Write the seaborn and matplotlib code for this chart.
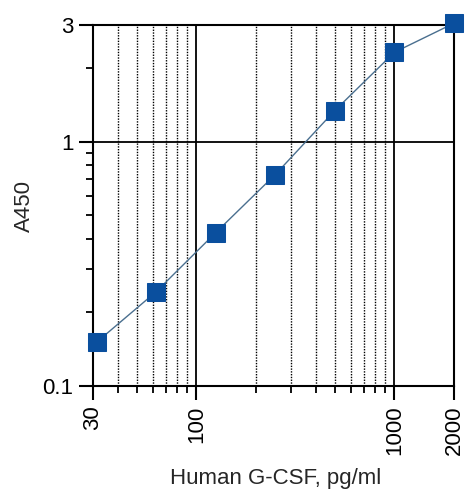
import matplotlib
matplotlib.use('Agg')
import matplotlib.pyplot as plt
import seaborn as sns
from matplotlib.ticker import FixedLocator, NullFormatter

# dados da curva padrao
conc = [31.25, 62.5, 125, 250, 500, 1000, 2000]
a450 = [0.151, 0.243, 0.424, 0.733, 1.34, 2.32, 3.05]

x_major = [30, 100, 1000, 2000]
x_major_labels = ['30', '100', '1000', '2000']
x_minor = [40, 50, 60, 70, 80, 90, 200, 300, 400, 500, 600, 700, 800, 900]
y_major = [0.1, 1, 3]
y_major_labels = ['0.1', '1', '3']
y_minor = [0.2, 0.3, 0.4, 0.5, 0.6, 0.7, 0.8, 0.9, 2]

sns.set_style('ticks')
plt.rcParams['font.family'] = ['Liberation Sans', 'DejaVu Sans']

fig = plt.figure(figsize=(4.66, 4.93), dpi=100)
ax = fig.add_axes([93/466, 1-386/493, (454-93)/466, (386-25)/493])

sns.lineplot(x=conc, y=a450, ax=ax, color='#4a6f8f', linewidth=1,
             marker='s', markersize=13, markerfacecolor='#0a4f9e',
             markeredgecolor='#0a4f9e', zorder=5, clip_on=False)

ax.set_xscale('log')
ax.set_yscale('log')
ax.set_xlim(30, 2000)
ax.set_ylim(0.1, 3)

ax.xaxis.set_major_locator(FixedLocator(x_major))
ax.xaxis.set_minor_locator(FixedLocator(x_minor))
ax.yaxis.set_major_locator(FixedLocator(y_major))
ax.yaxis.set_minor_locator(FixedLocator(y_minor))
ax.set_xticklabels(x_major_labels, rotation=90)
ax.set_yticklabels(y_major_labels)
ax.xaxis.set_minor_formatter(NullFormatter())
ax.yaxis.set_minor_formatter(NullFormatter())

# grades: solidas nas decadas, pontilhadas nos minor de x
for v in [100, 1000]:
    ax.axvline(v, color='black', linewidth=1.3, zorder=1)
ax.axhline(1, color='black', linewidth=1.3, zorder=1)
for v in x_minor:
    ax.axvline(v, color='black', linewidth=1, linestyle=(0, (1, 1)), zorder=1)

for s in ax.spines.values():
    s.set_linewidth(1.5)
    s.set_color('black')

ax.tick_params(which='major', length=10, width=1.5, labelsize=16, pad=4, colors='black')
ax.tick_params(which='minor', length=5, width=1.3, colors='black')

ax.set_xlabel('Human G-CSF, pg/ml', fontsize=16)
ax.xaxis.set_label_coords(0.505, -0.228)
ax.set_ylabel('A450', fontsize=16)
ax.yaxis.set_label_coords(-0.16, 0.5)

plt.savefig('out.png', dpi=100)
